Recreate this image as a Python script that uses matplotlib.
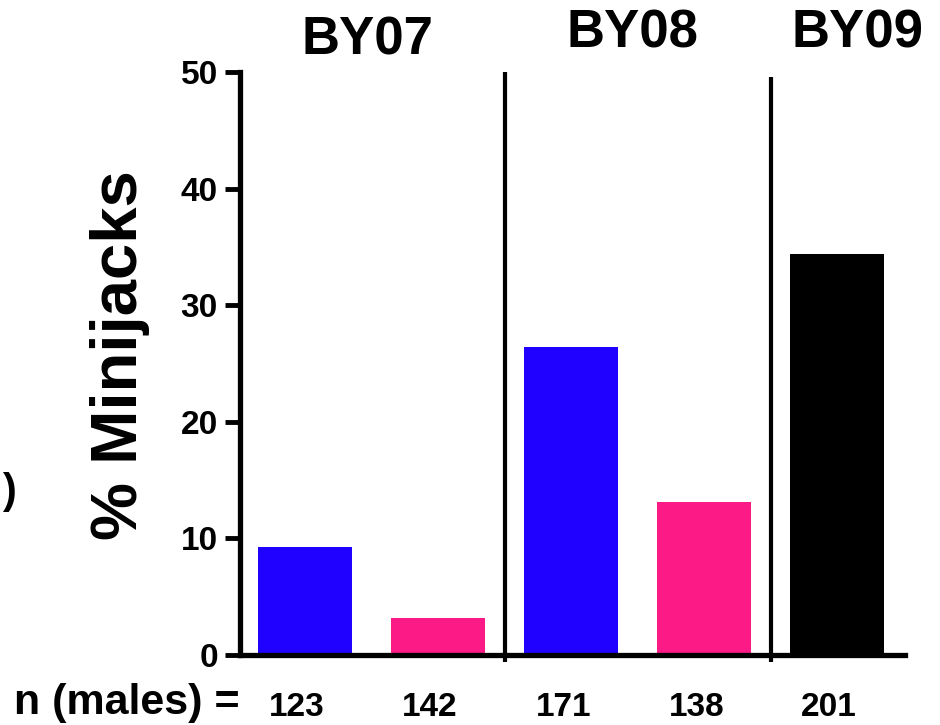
import matplotlib.pyplot as plt
import numpy as np

plt.rcParams['font.family'] = ['Liberation Sans', 'DejaVu Sans']
plt.rcParams['font.weight'] = 'bold'

# data
groups = ["BY07", "BY08", "BY09"]
values = [9.3, 3.2, 26.4, 13.1, 34.4]
n_males = ["123", "142", "171", "138", "201"]
bar_colors = ["#2000ff", "#fb1a86", "#2000ff", "#fb1a86", "#000000"]
yticks = [0, 10, 20, 30, 40, 50]

fig = plt.figure(figsize=(9.4, 7.25), dpi=100)
ax = fig.add_axes([0.2553, 0.0966, 0.7075, 0.8041])

x = np.arange(len(values))
ax.bar(x, values, width=0.71, color=bar_colors)

ax.set_xlim(-0.49, 4.51)
ax.set_ylim(0, 50)
ax.set_yticks(yticks)
ax.set_yticklabels([str(t) for t in yticks], fontsize=24, fontweight='bold')
ax.set_xticks([])
ax.tick_params(axis='y', length=11, width=3.5, pad=5)

for s in ['top', 'right']:
    ax.spines[s].set_visible(False)
for s in ['left', 'bottom']:
    ax.spines[s].set_linewidth(3.8)

ax.set_ylabel("% Minijacks", fontsize=47, fontweight='bold')
ax.yaxis.set_label_coords(-0.135, 0.515)

# separators between brood years
for xs, ytop in [(1.5, 50), (3.5, 49.6)]:
    ax.plot([xs, xs], [-0.6, ytop], color='black', lw=3, clip_on=False,
            solid_capstyle='butt')

# brood year titles
for xt, yt, g in [(0.47, 51.46, groups[0]), (2.46, 52.06, groups[1]), (4.15, 52.06, groups[2])]:
    ax.text(xt, yt, g, ha='center', va='baseline', fontsize=38, fontweight='bold')

# n counts below bars
for xi, n in zip(x, n_males):
    ax.text(xi - 0.06, -5.2, n, ha='center', va='baseline', fontsize=24, fontweight='bold')
ax.text(-0.49, -5.1, "n (males) =", ha='right', va='baseline', fontsize=31,
        fontweight='bold')

# clipped fragment at the left edge
fig.text(0.003, 0.322, ")", ha='left', va='center', fontsize=30)

fig.savefig("out.png", dpi=100)
